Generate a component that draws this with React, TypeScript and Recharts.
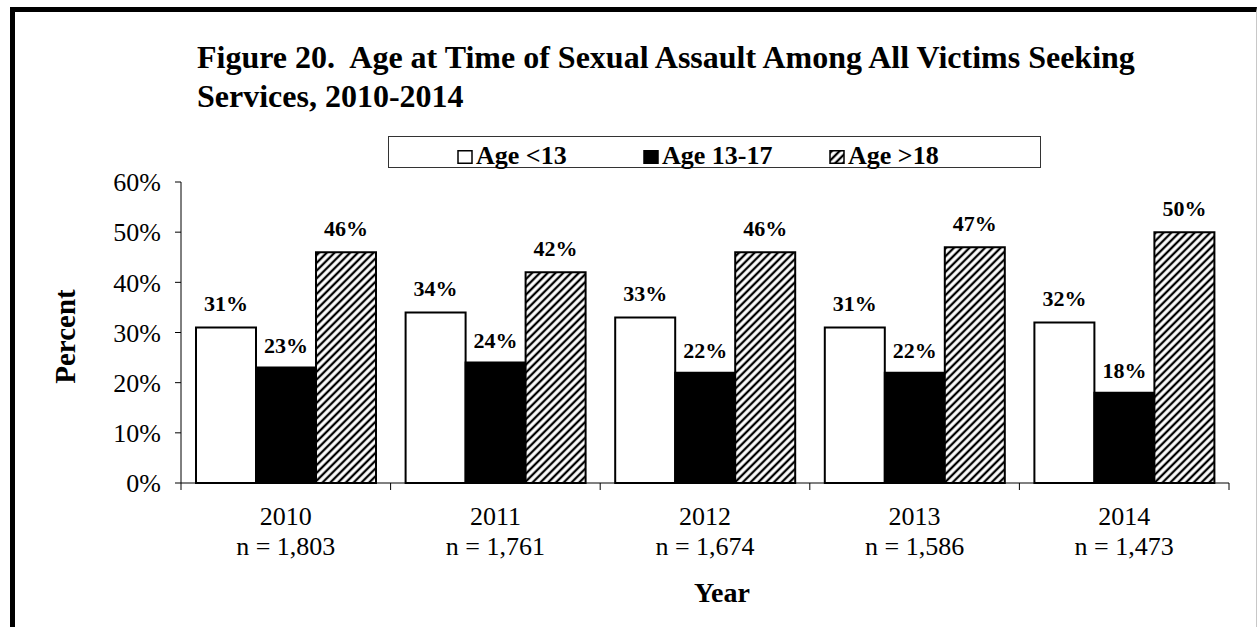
import React from 'react';
import { BarChart, Bar, XAxis, YAxis, Legend, LabelList } from 'recharts';

const years = ['2010', '2011', '2012', '2013', '2014'];
const sampleSizes = ['n = 1,803', 'n = 1,761', 'n = 1,674', 'n = 1,586', 'n = 1,473'];
const under13 = [31, 34, 33, 31, 32];
const age13to17 = [23, 24, 22, 22, 18];
const over18 = [46, 42, 46, 47, 50];
const yTicks = [0, 10, 20, 30, 40, 50, 60];
const seriesNames = ['Age <13', 'Age 13-17', 'Age >18'];

const data = years.map((year, i) => ({
  year,
  n: sampleSizes[i],
  under13: under13[i],
  teen: age13to17[i],
  adult: over18[i],
}));

const FONT = "'Liberation Serif', 'Times New Roman', serif";
const W = 1257;
const H = 627;
const MARGIN = { top: 182, right: 28, bottom: 24, left: 61 };
const Y_AXIS_W = 120;
const X_AXIS_H = 120;
const BAND = (W - MARGIN.left - Y_AXIS_W - MARGIN.right) / years.length;

const markerFills = ['#fff', '#000', 'url(#hatch)'];

/* ── x axis: two-line tick + ticks on category boundaries ─────────── */
function YearTick(props: any) {
  const { x, y, payload, index } = props;
  const half = payload && payload.offset > 0 ? payload.offset : BAND / 2;
  const last = index === years.length - 1;
  return (
    <g>
      <line x1={x - half} x2={x - half} y1={y} y2={y + 7} stroke="#000" />
      {last && <line x1={x + half} x2={x + half} y1={y} y2={y + 7} stroke="#000" />}
      <text x={x} y={y + 42} textAnchor="middle" fontSize={26} fontFamily={FONT} fill="#000">
        {payload.value}
      </text>
      <text x={x} y={y + 72} textAnchor="middle" fontSize={26} fontFamily={FONT} fill="#000">
        {sampleSizes[payload.index ?? index]}
      </text>
    </g>
  );
}

function LegendBox() {
  return (
    <div
      style={{
        position: 'relative',
        width: 653,
        height: 32,
        boxSizing: 'border-box',
        border: '1.5px solid #333',
        background: '#fff',
        fontFamily: FONT,
        fontWeight: 'bold',
        fontSize: 26,
        color: '#000',
      }}
    >
      {seriesNames.map((name, i) => (
        <div
          key={name}
          style={{ position: 'absolute', left: 68 + i * 186, top: 3, lineHeight: '32px', whiteSpace: 'nowrap' }}
        >
          <svg width={17} height={14} style={{ verticalAlign: 'baseline', marginRight: 2 }}>
            <rect x={1} y={0.75} width={14} height={12.5} fill={markerFills[i]} stroke="#000" strokeWidth={1.5} />
          </svg>
          {name}
        </div>
      ))}
    </div>
  );
}

export default function App() {
  return (
    <div style={{ position: 'relative', width: W, height: H, overflow: 'hidden', background: '#fff' }}>
      <style>{'body{margin:0}'}</style>
      {/* frame */}
      <div
        style={{
          position: 'absolute',
          left: 10,
          top: 7,
          right: 0,
          bottom: -20,
          borderTop: '5px solid #000',
          borderLeft: '5px solid #000',
          borderRight: '1px solid #c8c8c8',
        }}
      />
      <div
        style={{
          position: 'absolute',
          left: 197,
          top: 38,
          fontFamily: FONT,
          fontWeight: 'bold',
          fontSize: 32,
          lineHeight: '39px',
          color: '#000',
          whiteSpace: 'nowrap',
        }}
      >
        Figure 20.&nbsp; Age at Time of Sexual Assault Among All Victims Seeking
        <br />
        Services, 2010-2014
      </div>
      <div style={{ position: 'absolute', left: 0, top: 0 }}>
        <BarChart width={W} height={H} data={data} margin={MARGIN} barGap={0} barSize={60}>
          <defs>
            <pattern id="hatch" patternUnits="userSpaceOnUse" width={5.5} height={10} patternTransform="rotate(45)">
              <rect width={5.5} height={10} fill="#fff" />
              <line x1={2.75} y1={0} x2={2.75} y2={10} stroke="#000" strokeWidth={2.3} />
            </pattern>
          </defs>
          <XAxis
            dataKey="year"
            height={X_AXIS_H}
            interval={0}
            tickSize={0}
            tickMargin={0}
            tickLine={false}
            axisLine={{ stroke: '#000' }}
            tick={<YearTick />}
            label={{
              content: ({ viewBox }: any) => (
                <text
                  x={viewBox.x + viewBox.width / 2 + 17}
                  y={viewBox.y + 119}
                  textAnchor="middle"
                  fontSize={28}
                  fontWeight="bold"
                  fontFamily={FONT}
                  fill="#000"
                >
                  Year
                </text>
              ),
            }}
          />
          <YAxis
            width={Y_AXIS_W}
            domain={[0, 60]}
            ticks={yTicks}
            interval={0}
            tickSize={6}
            tickMargin={14}
            tickFormatter={(v) => `${v}%`}
            tick={{ fill: '#000', fontSize: 26, fontFamily: FONT }}
            tickLine={{ stroke: '#000' }}
            axisLine={{ stroke: '#000' }}
            label={{
              content: ({ viewBox }: any) => {
                const cx = viewBox.x + 14;
                const cy = viewBox.y + viewBox.height / 2 + 4;
                return (
                  <text
                    x={cx}
                    y={cy}
                    transform={`rotate(-90 ${cx} ${cy})`}
                    textAnchor="middle"
                    fontSize={29}
                    fontWeight="bold"
                    fontFamily={FONT}
                    fill="#000"
                  >
                    Percent
                  </text>
                );
              },
            }}
          />
          <Legend
            layout="horizontal"
            align="center"
            verticalAlign="middle"
            wrapperStyle={{ left: 388, top: 136, width: 653 }}
            content={() => <LegendBox />}
          />
          <Bar dataKey="under13" name={seriesNames[0]} fill="#fff" stroke="#000" strokeWidth={2} isAnimationActive={false}>
            <LabelList dataKey="under13" position="top" offset={16} formatter={(v: any) => `${v}%`}
              fill="#000" fontSize={22} fontWeight="bold" fontFamily={FONT} />
          </Bar>
          <Bar dataKey="teen" name={seriesNames[1]} fill="#000" stroke="#000" strokeWidth={2} isAnimationActive={false}>
            <LabelList dataKey="teen" position="top" offset={15} formatter={(v: any) => `${v}%`}
              fill="#000" fontSize={22} fontWeight="bold" fontFamily={FONT} />
          </Bar>
          <Bar dataKey="adult" name={seriesNames[2]} fill="url(#hatch)" stroke="#000" strokeWidth={2} isAnimationActive={false}>
            <LabelList dataKey="adult" position="top" offset={16} formatter={(v: any) => `${v}%`}
              fill="#000" fontSize={22} fontWeight="bold" fontFamily={FONT} />
          </Bar>
        </BarChart>
      </div>
    </div>
  );
}
